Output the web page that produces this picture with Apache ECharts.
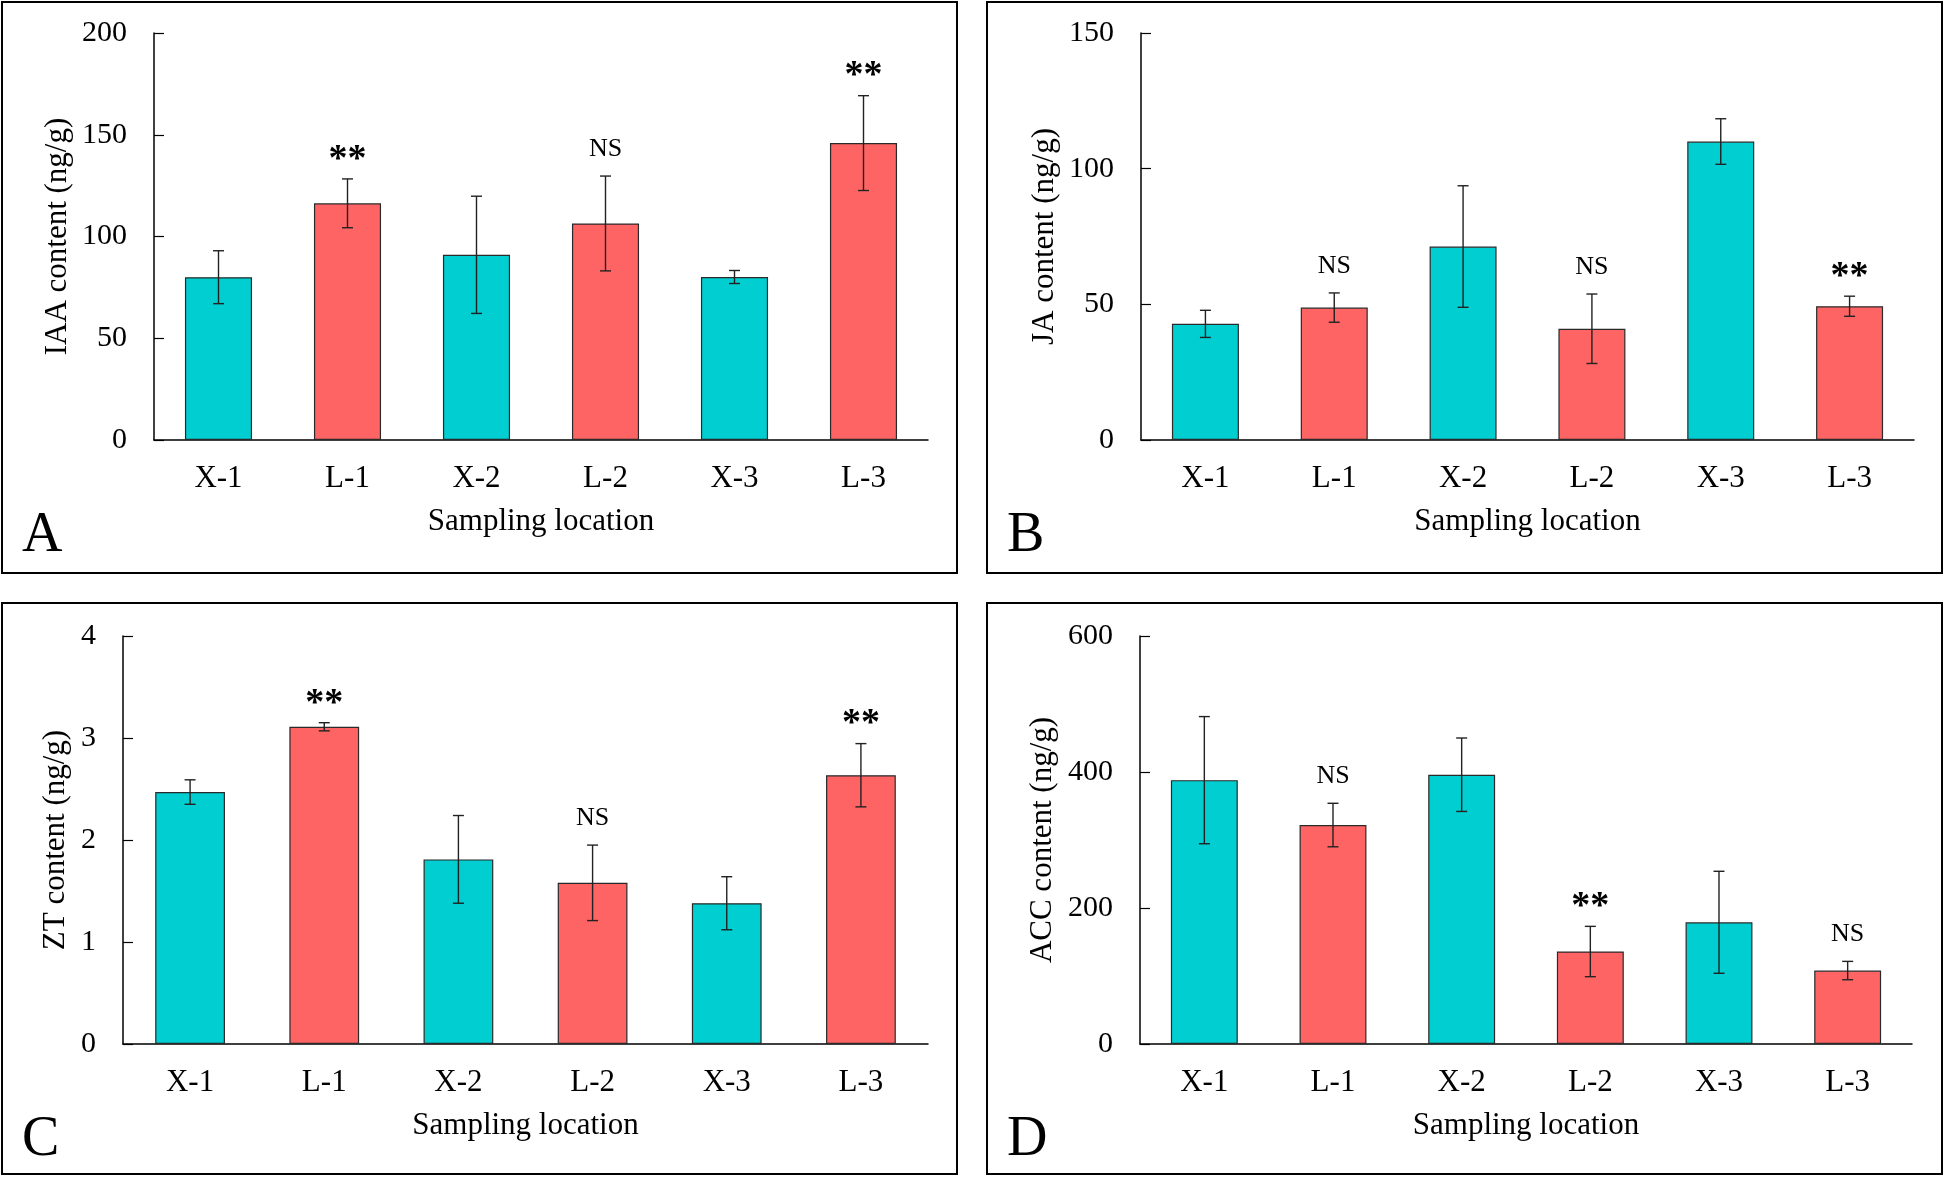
<!DOCTYPE html>
<html>
<head>
<meta charset="utf-8">
<script src="https://cdn.jsdelivr.net/npm/echarts@6/dist/echarts.min.js"></script>
<style>
  html, body { margin: 0; padding: 0; background: #fff; }
  #main { width: 1946px; height: 1179px; }
</style>
</head>
<body>
<div id="main"></div>
<script>
// 采样点
const categories = ['X-1', 'L-1', 'X-2', 'L-2', 'X-3', 'L-3']

// A: IAA
const iaaMean = [80.0, 116.3, 91.0, 106.4, 80.1, 145.9]
const iaaErr = [13.0, 12.0, 28.8, 23.3, 3.2, 23.3]
const iaaSig = ['', '**', '', 'NS', '', '**']
// B: JA
const jaMean = [42.8, 48.8, 71.3, 41.0, 110.0, 49.3]
const jaErr = [5.0, 5.4, 22.4, 12.8, 8.4, 3.7]
const jaSig = ['', 'NS', '', 'NS', '', '**']
// C: ZT
const ztMean = [2.47, 3.11, 1.81, 1.58, 1.38, 2.635]
const ztErr = [0.12, 0.04, 0.43, 0.37, 0.26, 0.31]
const ztSig = ['', '**', '', 'NS', '', '**']
// D: ACC
const accMean = [388, 322, 396, 136, 179, 108]
const accErr = [93.5, 32, 54, 37, 75, 13.5]
const accSig = ['', 'NS', '', '**', '', 'NS']

// y axis ticks
const yMax = [200, 150, 4, 600]
const yStep = [50, 50, 1, 200]
const yNames = ['IAA content (ng/g)', 'JA content (ng/g)', 'ZT content (ng/g)', 'ACC content (ng/g)']

const FONT = 'Liberation Serif, Times New Roman, serif'
const CYAN = '#00CED1'
const RED = '#FF6464'

const panels = [
  { mean: iaaMean, err: iaaErr, sig: iaaSig },
  { mean: jaMean, err: jaErr, sig: jaSig },
  { mean: ztMean, err: ztErr, sig: ztSig },
  { mean: accMean, err: accErr, sig: accSig }
]

const grids = [
  { left: 154, top: 33, width: 774, height: 407 },
  { left: 1141, top: 33, width: 773, height: 407 },
  { left: 123, top: 636, width: 805, height: 408 },
  { left: 1140, top: 636, width: 772, height: 408 }
]
const nameGaps = [81, 81, 52, 82]

function errRender(params, api) {
  const i = api.value(0)
  const lo = api.coord([i, api.value(1)])
  const hi = api.coord([i, api.value(2)])
  const w = 5.5
  const st = { stroke: '#222', lineWidth: 1.4 }
  return {
    type: 'group',
    children: [
      { type: 'line', shape: { x1: hi[0], y1: hi[1], x2: lo[0], y2: lo[1] }, style: st },
      { type: 'line', shape: { x1: hi[0] - w, y1: hi[1], x2: hi[0] + w, y2: hi[1] }, style: st },
      { type: 'line', shape: { x1: lo[0] - w, y1: lo[1], x2: lo[0] + w, y2: lo[1] }, style: st }
    ]
  }
}

function sigRender(sig) {
  return function (params, api) {
    const txt = sig[params.dataIndex]
    if (!txt) return null
    const p = api.coord([api.value(0), api.value(1)])
    const star = txt === '**'
    return {
      type: 'text',
      x: p[0],
      y: p[1] - (star ? 0 : 14),
      style: {
        text: txt,
        align: 'center',
        verticalAlign: 'bottom',
        fontFamily: FONT,
        fontSize: star ? 38 : 26,
        fontWeight: star ? 'bold' : 'normal',
        fill: '#000'
      }
    }
  }
}

const xAxis = []
const yAxis = []
const series = []
panels.forEach((p, k) => {
  xAxis.push({
    type: 'category',
    gridIndex: k,
    data: categories,
    name: 'Sampling location',
    nameLocation: 'middle',
    nameGap: 66,
    nameTextStyle: { fontFamily: FONT, fontSize: 31, color: '#000' },
    axisLine: { lineStyle: { color: '#000', width: 1.5 } },
    axisTick: { inside: true, length: 9, interval: 0, lineStyle: { color: '#000', width: 1.2 } },
    axisLabel: { fontFamily: FONT, fontSize: 31, color: '#000', margin: 23, interval: 0 }
  })
  yAxis.push({
    type: 'value',
    gridIndex: k,
    min: 0,
    max: yMax[k],
    interval: yStep[k],
    name: yNames[k],
    nameLocation: 'middle',
    nameGap: nameGaps[k],
    nameTextStyle: { fontFamily: FONT, fontSize: 31, color: '#000' },
    splitLine: { show: false },
    axisLine: { show: true, lineStyle: { color: '#000', width: 1.5 } },
    axisTick: { show: true, inside: true, length: 10, lineStyle: { color: '#000', width: 1.2 } },
    axisLabel: { fontFamily: FONT, fontSize: 30, color: '#000', margin: 27 }
  })
  series.push({
    type: 'bar',
    xAxisIndex: k,
    yAxisIndex: k,
    barWidth: '52%',
    data: p.mean,
    itemStyle: {
      color: (d) => (categories[d.dataIndex][0] === 'X' ? CYAN : RED),
      borderColor: '#2a2a2a',
      borderWidth: 1.2
    },
    z: 2
  })
  series.push({
    type: 'custom',
    xAxisIndex: k,
    yAxisIndex: k,
    renderItem: errRender,
    data: p.mean.map((m, i) => [i, m - p.err[i], m + p.err[i]]),
    z: 3
  })
  series.push({
    type: 'custom',
    xAxisIndex: k,
    yAxisIndex: k,
    renderItem: sigRender(p.sig),
    data: p.mean.map((m, i) => [i, m + p.err[i]]),
    z: 4
  })
})

const frames = [
  [2, 2], [987, 2], [2, 603], [987, 603]
]
const letters = ['A', 'B', 'C', 'D']
const letterPos = [[22, 564], [1007, 564], [22, 1168], [1007, 1168]]
const graphic = []
frames.forEach((f) => {
  graphic.push({
    type: 'rect',
    shape: { x: f[0], y: f[1], width: 955, height: 571 },
    style: { fill: 'none', stroke: '#000', lineWidth: 2 },
    silent: true
  })
})
letters.forEach((t, i) => {
  graphic.push({
    type: 'text',
    x: letterPos[i][0],
    y: letterPos[i][1],
    style: { text: t, fontFamily: FONT, fontSize: 56, fill: '#000', verticalAlign: 'bottom' },
    silent: true
  })
})

const myChart = echarts.init(document.getElementById('main'))
myChart.setOption({
  animation: false,
  grid: grids,
  xAxis: xAxis,
  yAxis: yAxis,
  series: series,
  graphic: graphic
})
</script>
</body>
</html>
